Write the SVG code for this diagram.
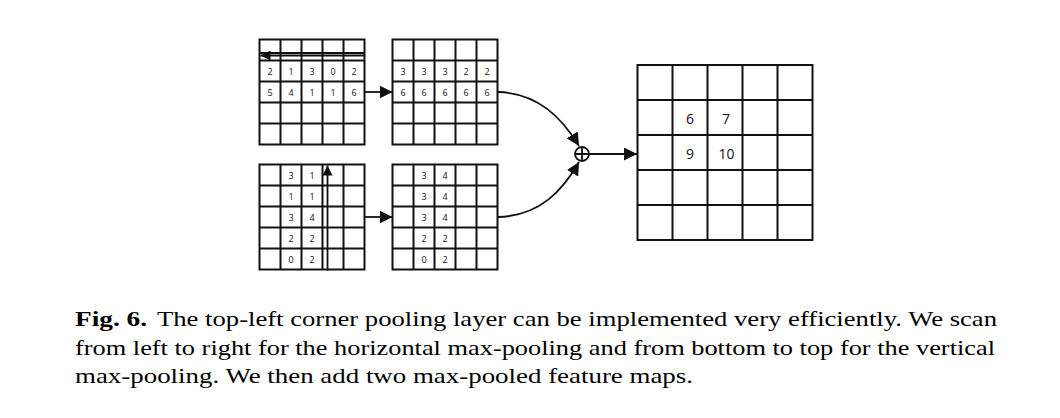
<svg xmlns="http://www.w3.org/2000/svg" width="1060" height="418" viewBox="0 0 1060 418">
<style>
.g{fill:none;stroke:#111;stroke-width:2}
.s{font-family:"Open Sans","Noto Sans",sans-serif;font-size:9px;fill:#111;text-anchor:middle;dominant-baseline:central}
.b{font-family:"Open Sans","Noto Sans",sans-serif;font-size:14px;fill:#111;text-anchor:middle;dominant-baseline:central}
.c{stroke:#111;stroke-width:1.8;fill:none}
.cap{font-family:"Liberation Serif","Times New Roman",serif;font-size:21px;fill:#000}
</style>
<defs>
<marker id="ah" viewBox="0 0 10 10" refX="10" refY="5" markerWidth="10" markerHeight="10" markerUnits="userSpaceOnUse" orient="auto">
<path d="M0,0 L10,5 L0,10 z" fill="#111"/>
</marker>
<marker id="ah2" viewBox="0 0 10 10" refX="10" refY="5" markerWidth="13" markerHeight="13" markerUnits="userSpaceOnUse" orient="auto">
<path d="M0,0 L10,5 L0,10 z" fill="#111"/>
</marker>
<g id="sg">
<rect class="g" x="0" y="0" width="105" height="105"/>
<path class="g" d="M21,0V105M42,0V105M63,0V105M84,0V105M0,21H105M0,42H105M0,63H105M0,84H105"/>
</g>
</defs>

<g id="grid1" transform="translate(259.5,39.5)">
<use href="#sg"/>
<text class="s" x="10.5" y="31.5">2</text><text class="s" x="31.5" y="31.5">1</text><text class="s" x="52.5" y="31.5">3</text><text class="s" x="73.5" y="31.5">0</text><text class="s" x="94.5" y="31.5">2</text>
<text class="s" x="10.5" y="52.5">5</text><text class="s" x="31.5" y="52.5">4</text><text class="s" x="52.5" y="52.5">1</text><text class="s" x="73.5" y="52.5">1</text><text class="s" x="94.5" y="52.5">6</text>
<path class="c" d="M105,16H1" marker-end="url(#ah)"/>
<path class="c" d="M0,13.5H105" stroke-width="1.5"/>
</g>

<g id="grid2" transform="translate(392.5,39.5)">
<use href="#sg"/>
<text class="s" x="10.5" y="31.5">3</text><text class="s" x="31.5" y="31.5">3</text><text class="s" x="52.5" y="31.5">3</text><text class="s" x="73.5" y="31.5">2</text><text class="s" x="94.5" y="31.5">2</text>
<text class="s" x="10.5" y="52.5">6</text><text class="s" x="31.5" y="52.5">6</text><text class="s" x="52.5" y="52.5">6</text><text class="s" x="73.5" y="52.5">6</text><text class="s" x="94.5" y="52.5">6</text>
</g>

<g id="grid3" transform="translate(259.5,164.5)">
<use href="#sg"/>
<text class="s" x="31.5" y="10.5">3</text><text class="s" x="52.5" y="10.5">1</text>
<text class="s" x="31.5" y="31.5">1</text><text class="s" x="52.5" y="31.5">1</text>
<text class="s" x="31.5" y="52.5">3</text><text class="s" x="52.5" y="52.5">4</text>
<text class="s" x="31.5" y="73.5">2</text><text class="s" x="52.5" y="73.5">2</text>
<text class="s" x="31.5" y="94.5">0</text><text class="s" x="52.5" y="94.5">2</text>
<path class="c" d="M68,106V1" marker-end="url(#ah)"/>
</g>

<g id="grid4" transform="translate(392.5,164.5)">
<use href="#sg"/>
<text class="s" x="31.5" y="10.5">3</text><text class="s" x="52.5" y="10.5">4</text>
<text class="s" x="31.5" y="31.5">3</text><text class="s" x="52.5" y="31.5">4</text>
<text class="s" x="31.5" y="52.5">3</text><text class="s" x="52.5" y="52.5">4</text>
<text class="s" x="31.5" y="73.5">2</text><text class="s" x="52.5" y="73.5">2</text>
<text class="s" x="31.5" y="94.5">0</text><text class="s" x="52.5" y="94.5">2</text>
</g>

<g id="result" transform="translate(637.5,65)">
<rect class="g" x="0" y="0" width="175" height="175"/>
<path class="g" d="M35,0V175M70,0V175M105,0V175M140,0V175M0,35H175M0,70H175M0,105H175M0,140H175"/>
<text class="b" x="52.5" y="53">6</text><text class="b" x="88.5" y="53">7</text>
<text class="b" x="52.5" y="88">9</text><text class="b" x="89" y="88">10</text>
</g>

<g id="sum">
<circle cx="582" cy="154" r="7" fill="none" stroke="#111" stroke-width="1.8"/>
<path d="M575,154H589M582,147V161" stroke="#111" stroke-width="1.8"/>
</g>

<g id="connectors">
<path class="c" d="M364.5,92H392.5" marker-end="url(#ah2)"/>
<path class="c" d="M364.5,217H392.5" marker-end="url(#ah2)"/>
<path class="c" d="M498,92C538,93 562,118 579,146" marker-end="url(#ah2)"/>
<path class="c" d="M498,217C540,216 563,190 579,162" marker-end="url(#ah2)"/>
<path class="c" d="M589,154H637" marker-end="url(#ah2)"/>
</g>

<g id="caption">
<text class="cap" x="75" y="326" font-weight="bold" textLength="72" lengthAdjust="spacingAndGlyphs">Fig. 6.</text>
<text class="cap" x="157" y="326" textLength="840" lengthAdjust="spacingAndGlyphs">The top-left corner pooling layer can be implemented very efficiently. We scan</text>
<text class="cap" x="75" y="355" textLength="920" lengthAdjust="spacingAndGlyphs">from left to right for the horizontal max-pooling and from bottom to top for the vertical</text>
<text class="cap" x="75" y="383" textLength="618" lengthAdjust="spacingAndGlyphs">max-pooling. We then add two max-pooled feature maps.</text>
</g>
</svg>
